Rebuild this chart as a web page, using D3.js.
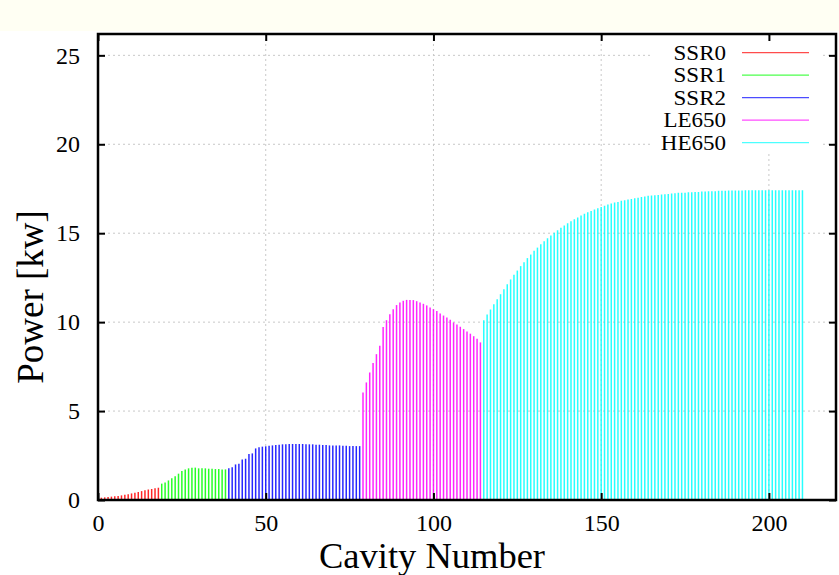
<!DOCTYPE html>
<html>
<head>
<meta charset="utf-8">
<script src="https://cdn.jsdelivr.net/npm/d3@7"></script>
<style>
  html, body { margin: 0; padding: 0; background: #ffffff; }
  svg { display: block; }
  text { font-family: "Liberation Serif", "DejaVu Serif", serif; fill: #000; }
</style>
</head>
<body>
<svg id="chart" width="839" height="575"></svg>
<script>
// ---------------- data ----------------
const seriesNames = ["SSR0", "SSR1", "SSR2", "LE650", "HE650"];
const seriesColors = ["#ff0000", "#00ff00", "#0000ff", "#ff00ff", "#00ffff"];
const seriesFirstCavity = [1, 19, 39, 79, 115];

const ssr0 = [0.13,0.15,0.17,0.19,0.21,0.23,0.26,0.30,0.33,0.37,0.41,0.45,0.50,0.55,0.59,0.62,0.66,0.69];
const ssr1 = [0.92,0.99,1.10,1.22,1.33,1.48,1.63,1.72,1.78,1.82,1.82,1.78,1.78,1.78,1.76,1.76,1.74,1.74,1.72,1.72];
const ssr2 = [1.78,1.84,2.00,2.04,2.28,2.32,2.58,2.62,2.90,2.96,3.00,3.02,3.05,3.07,3.09,3.11,3.13,3.13,3.15,3.15,
              3.15,3.15,3.15,3.13,3.13,3.13,3.11,3.11,3.09,3.09,3.07,3.07,3.07,3.07,3.05,3.05,3.03,3.03,3.03,3.03];
const le650 = [6.05,6.61,7.17,7.70,8.20,8.67,9.72,10.11,10.45,10.73,10.96,11.10,11.20,11.25,11.25,11.24,11.18,11.10,
               11.03,10.94,10.82,10.73,10.62,10.49,10.37,10.26,10.13,9.98,9.87,9.74,9.61,9.48,9.35,9.21,9.06,8.86];
const he650 = [10.11,10.43,10.71,11.01,11.29,11.57,11.85,12.13,12.40,12.66,12.90,13.15,13.37,13.60,13.80,14.01,
               14.19,14.38,14.55,14.72,14.87,15.02,15.17,15.30,15.43,15.56,15.67,15.79,15.88,15.99,16.09,16.18,
               16.25,16.33,16.40,16.48,16.54,16.61,16.67,16.72,16.76,16.82,16.85,16.89,16.93,16.97,17.00,17.04,
               17.06,17.10,17.12,17.13,17.15,17.17,17.19,17.21,17.23,17.25,17.27,17.27,17.28,17.30,17.30,17.32,
               17.32,17.34,17.34,17.36,17.36,17.36,17.38,17.38,17.38,17.40,17.40,17.40,17.40,17.40,17.42,17.42,
               17.42,17.42,17.42,17.42,17.42,17.42,17.42,17.42,17.42,17.42,17.42,17.42,17.42,17.42,17.42,17.42];
const seriesValues = [ssr0, ssr1, ssr2, le650, he650];

const xTicks = [0, 50, 100, 150, 200];
const yTicks = [0, 5, 10, 15, 20, 25];
const xTitle = "Cavity Number";
const yTitle = "Power [kw]";

// ---------------- layout ----------------
const W = 839, H = 575;
const plot = { left: 98, right: 836, top: 34, bottom: 500 };

const svg = d3.select("#chart");

// cream band at the top of the picture
svg.append("rect").attr("x", 0).attr("y", 0).attr("width", W).attr("height", 31).attr("fill", "#fffff3");

const x = d3.scaleLinear().domain([0, 220]).range([plot.left, plot.right]);
const y = d3.scaleLinear().domain([0, 26.2]).range([plot.bottom, plot.top]);

// grid
const grid = svg.append("g").attr("stroke", "#c8c8c8").attr("stroke-width", 1).attr("stroke-dasharray", "2,3");
grid.selectAll("line.gx").data(xTicks.filter(d => d > 0)).join("line")
  .attr("x1", d => x(d)).attr("x2", d => x(d)).attr("y1", plot.top).attr("y2", plot.bottom);
grid.selectAll("line.gy").data(yTicks.filter(d => d > 0)).join("line")
  .attr("x1", plot.left).attr("x2", plot.right).attr("y1", d => y(d)).attr("y2", d => y(d));

// impulses
const bars = svg.append("g");
seriesValues.forEach((vals, si) => {
  const pts = vals.map((v, i) => ({ c: seriesFirstCavity[si] + i, v }));
  bars.append("g").attr("stroke", seriesColors[si]).attr("stroke-width", 1.5).attr("stroke-opacity", 0.85)
    .selectAll("line").data(pts).join("line")
    .attr("x1", d => x(d.c)).attr("x2", d => x(d.c))
    .attr("y1", y(0)).attr("y2", d => y(d.v));
});

// opaque legend box
const legend = svg.append("g");
legend.append("rect").attr("x", 650).attr("y", 37).attr("width", 172).attr("height", 116).attr("fill", "#ffffff");
seriesNames.forEach((name, i) => {
  const ly = 52.7 + i * 22.5;
  legend.append("text").attr("transform", `translate(726,${ly}) scale(1.15,1)`).attr("dy", "0.35em")
    .attr("text-anchor", "end").attr("font-size", 20).text(name);
  legend.append("line").attr("x1", 742).attr("x2", 809).attr("y1", ly).attr("y2", ly)
    .attr("stroke", seriesColors[i]).attr("stroke-width", 1.3).attr("stroke-opacity", 0.7);
});

// axes (inward ticks, mirrored on top and right)
const tickLen = 7;
function styleAxis(g) {
  g.select(".domain").remove();
  g.selectAll(".tick line").attr("stroke", "#000").attr("stroke-width", 2);
  g.selectAll(".tick text").attr("font-family", "Liberation Serif, serif").attr("font-size", 24).attr("fill", "#000");
}
svg.append("g").attr("transform", `translate(0,${plot.bottom})`)
  .call(d3.axisBottom(x).tickValues(xTicks).tickSize(-tickLen).tickPadding(14).tickFormat(d3.format("d")))
  .call(styleAxis);
svg.append("g").attr("transform", `translate(0,${plot.top})`)
  .call(d3.axisTop(x).tickValues(xTicks).tickSize(-tickLen).tickFormat(""))
  .call(styleAxis);
svg.append("g").attr("transform", `translate(${plot.left},0)`)
  .call(d3.axisLeft(y).tickValues(yTicks).tickSize(-tickLen).tickPadding(18).tickFormat(d3.format("d")))
  .call(styleAxis);
svg.append("g").attr("transform", `translate(${plot.right},0)`)
  .call(d3.axisRight(y).tickValues(yTicks).tickSize(-tickLen).tickFormat(""))
  .call(styleAxis);

// frame
svg.append("rect").attr("x", plot.left).attr("y", plot.top)
  .attr("width", plot.right - plot.left).attr("height", plot.bottom - plot.top)
  .attr("fill", "none").attr("stroke", "#000").attr("stroke-width", 2.5);

// axis titles
svg.append("text").attr("x", 432).attr("y", 568).attr("text-anchor", "middle")
  .attr("font-size", 36.5).text(xTitle);
svg.append("text").attr("transform", "translate(43,297) rotate(-90)").attr("text-anchor", "middle")
  .attr("font-size", 37).text(yTitle);
</script>
</body>
</html>
